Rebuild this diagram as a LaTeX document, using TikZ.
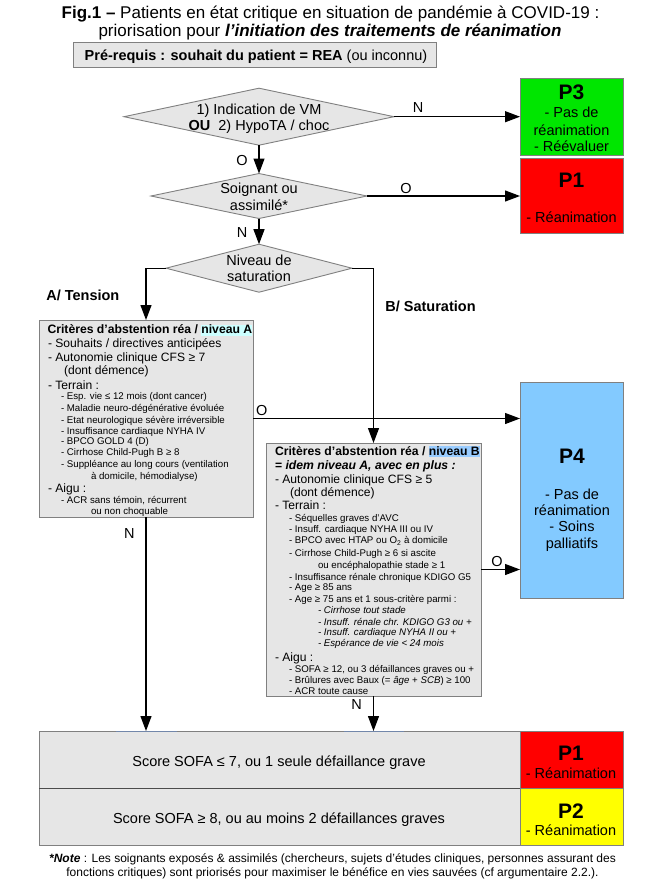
\documentclass[tikz,border=0pt]{standalone}
\usepackage{fontspec}
\setmainfont{Liberation Sans}
\usetikzlibrary{shapes.geometric,arrows.meta,calc}
\definecolor{boxgray}{RGB}{230,230,230}
\definecolor{bordergray}{RGB}{128,128,128}
\definecolor{pgreen}{RGB}{0,230,0}
\definecolor{pred}{RGB}{255,0,0}
\definecolor{pyellow}{RGB}{255,255,0}
\definecolor{pblue}{RGB}{131,202,255}
\definecolor{hlA}{RGB}{204,255,255}
\definecolor{hlB}{RGB}{153,204,255}
\definecolor{glue}{RGB}{114,135,170}
\newcommand\myfs[1]{\fontsize{#1}{#1}\selectfont}
\newcommand\hlt[2]{{\setlength{\fboxsep}{0pt}\colorbox{#1}{\rule[-0.15em]{0pt}{0.9em}#2}}}
\begin{document}
\begin{tikzpicture}[x=1pt,y=-1pt,
  txt/.style={inner sep=0pt, outer sep=0pt, font={\myfs{14.5}}},
  big/.style={txt, font={\myfs{21}\bfseries}},
  ttl/.style={txt, font={\myfs{17}}},
  hd/.style={txt, font={\myfs{12.2}\bfseries}},
  mid/.style={txt, font={\myfs{12.1}}},
  sm/.style={txt, font={\myfs{9.7}}},
  smi/.style={txt, font={\myfs{9.7}\itshape}},
  nt/.style={txt, font={\myfs{12}}},
  lbl/.style={inner sep=0pt, outer sep=0pt, font={\myfs{14.5}}},
  box/.style={rectangle, draw=bordergray, line width=0.9pt, fill=boxgray, inner sep=0pt, outer sep=0pt},
  pbox/.style={rectangle, draw=bordergray, line width=0.9pt, inner sep=0pt, outer sep=0pt},
  dia/.style={diamond, draw=bordergray, fill=boxgray, line width=0.9pt, inner sep=0pt, outer sep=0pt},
  arr/.style={-{Triangle[length=15pt,width=11pt]}, line width=1.2pt, black},
  gl/.style={draw=glue, line width=0.8pt}
]
\fill[white] (0,0) rectangle (661,894);
\useasboundingbox (0,0) rectangle (661,894);

% title
\node[ttl, anchor=base] (t1) at (330.5,18.7) {\textbf{Fig.1 –} Patients en état critique en situation de pandémie à COVID-19 :};
\node[ttl, anchor=base] (t2) at (330,36.8) {priorisation pour \textbf{\textit{l’initiation des traitements de réanimation}}};

% pre-requis
\node[box, minimum width=363pt, minimum height=25pt] (pre) at (254.5,55) {};
\node[txt, anchor=base] (pret) at (256,60.2) {\textbf{Pré-requis : souhait du patient = REA} (ou inconnu)};

% diamonds
\node[dia, minimum width=270pt, minimum height=57pt] (d1) at (259,116.7) {};
\node[txt, anchor=base] (d1a) at (259,114.2) {1) Indication de VM};
\node[txt, anchor=base] (d1b) at (259,130.2) {\textbf{OU}\ \ 2) HypoTA / choc};

\node[dia, minimum width=216pt, minimum height=45pt] (d2) at (259,196) {};
\node[txt, anchor=base] (d2a) at (259,193.5) {Soignant ou};
\node[txt, anchor=base] (d2b) at (259,210.2) {assimilé*};

\node[dia, minimum width=186pt, minimum height=48pt] (d3) at (259,268.2) {};
\node[txt, anchor=base] (d3a) at (259,265.9) {Niveau de};
\node[txt, anchor=base] (d3b) at (259,281.9) {saturation};

% P boxes
\node[pbox, fill=pgreen, minimum width=103pt, minimum height=77pt] (p3) at (571.5,116.5) {};
\node[big, anchor=base] (p3a) at (571.5,99.8) {P3};
\node[txt, anchor=base] (p3b) at (571.5,117.9) {- Pas de};
\node[txt, anchor=base] (p3c) at (571.5,135.2) {réanimation};
\node[txt, anchor=base] (p3d) at (571.5,151.9) {- Réévaluer};

\node[pbox, fill=pred, minimum width=103pt, minimum height=75pt] (p1) at (571.5,195.7) {};
\node[big, anchor=base] (p1a) at (571.5,187.5) {P1};
\node[txt, anchor=base] (p1b) at (571.5,222.5) {- Réanimation};

\node[pbox, fill=pblue, minimum width=103pt, minimum height=216pt] (p4) at (571.5,490) {};
\node[big, anchor=base] (p4a) at (572,463.5) {P4};
\node[txt, anchor=base] (p4b) at (572,499.2) {- Pas de};
\node[txt, anchor=base] (p4c) at (572,515.2) {réanimation};
\node[txt, anchor=base] (p4d) at (572,531.9) {- Soins};
\node[txt, anchor=base] (p4e) at (572,548.2) {palliatifs};

% branch labels
\node[txt, font={\myfs{14.5}\bfseries}, anchor=base] (lA) at (82.8,300.2) {A/ Tension};
\node[txt, font={\myfs{14.5}\bfseries}, anchor=base] (lB) at (430.5,311.2) {B/ Saturation};

% Box A
\node[box, minimum width=214pt, minimum height=197pt] (bxA) at (146,418.5) {};
\node[hd, anchor=base west] (a1) at (47.5,333.7) {Critères d’abstention réa / \hlt{hlA}{niveau A}};
\node[mid, anchor=base west] (a2) at (48,347.0) {- Souhaits / directives anticipées};
\node[mid, anchor=base west] (a3) at (48,361.0) {- Autonomie clinique CFS ≥ 7};
\node[mid, anchor=base west] (a4) at (64,374.3) {(dont démence)};
\node[mid, anchor=base west] (a5) at (48,389.3) {- Terrain :};
\node[sm, anchor=base west] (a6) at (61,399.5) {- Esp. vie ≤ 12 mois (dont cancer)};
\node[sm, anchor=base west] (a7) at (61,411.5) {- Maladie neuro-dégénérative évoluée};
\node[sm, anchor=base west] (a8) at (61,423.0) {- Etat neurologique sévère irréversible};
\node[sm, anchor=base west] (a9) at (61,434.2) {- Insuffisance cardiaque NYHA IV};
\node[sm, anchor=base west] (a10) at (61,444.8) {- BPCO GOLD 4 (D)};
\node[sm, anchor=base west] (a11) at (61,455.5) {- Cirrhose Child-Pugh B ≥ 8};
\node[sm, anchor=base west] (a12) at (61,467.5) {- Suppléance au long cours (ventilation};
\node[sm, anchor=base west] (a13) at (91,479.2) {à domicile, hémodialyse)};
\node[mid, anchor=base west] (a14) at (48,492.3) {- Aigu :};
\node[sm, anchor=base west] (a15) at (61,503.5) {- ACR sans témoin, récurrent};
\node[sm, anchor=base west] (a16) at (91,514.5) {ou non choquable};

% Box B
\node[box, minimum width=215pt, minimum height=253pt] (bxB) at (373.5,569.5) {};
\node[hd, anchor=base west] (b1) at (275,455.1) {Critères d’abstention réa / \hlt{hlB}{niveau B}};
\node[hd, anchor=base west] (b2) at (275,469.4) {= \textit{idem niveau A, avec en plus :}};
\node[mid, anchor=base west] (b3) at (275,483.6) {- Autonomie clinique CFS ≥ 5};
\node[mid, anchor=base west] (b4) at (290,496.3) {(dont démence)};
\node[mid, anchor=base west] (b5) at (275,509.3) {- Terrain :};
\node[sm, anchor=base west] (b6) at (289,521.8) {- Séquelles graves d’AVC};
\node[sm, anchor=base west] (b7) at (289,532.8) {- Insuff. cardiaque NYHA III ou IV};
\node[sm, anchor=base west] (b8) at (289,543.5) {- BPCO avec HTAP ou O\textsubscript{2} à domicile};
\node[sm, anchor=base west] (b9) at (289,556.8) {- Cirrhose Child-Pugh ≥ 6 si ascite};
\node[sm, anchor=base west] (b10) at (318,568.5) {ou encéphalopathie stade ≥ 1};
\node[sm, anchor=base west] (b11) at (289,580.2) {- Insuffisance rénale chronique KDIGO G5};
\node[sm, anchor=base west] (b12) at (289,590.8) {- Age ≥ 85 ans};
\node[sm, anchor=base west] (b13) at (289,602.2) {- Age ≥ 75 ans et 1 sous-critère parmi :};
\node[smi, anchor=base west] (b14) at (318,613.5) {- Cirrhose tout stade};
\node[smi, anchor=base west] (b15) at (318,625.2) {- Insuff. rénale chr. KDIGO G3 ou +};
\node[smi, anchor=base west] (b16) at (318,635.8) {- Insuff. cardiaque NYHA II ou +};
\node[smi, anchor=base west] (b17) at (318,646.8) {- Espérance de vie < 24 mois};
\node[mid, anchor=base west] (b18) at (275,661.6) {- Aigu :};
\node[sm, anchor=base west] (b19) at (289,672.5) {- SOFA ≥ 12, ou 3 défaillances graves ou +};
\node[sm, anchor=base west] (b20) at (289,683.5) {- Brûlures avec Baux (= \textit{âge} + \textit{SCB}) ≥ 100};
\node[sm, anchor=base west] (b21) at (289,694.2) {- ACR toute cause};

% bottom table
\node[box, minimum width=481pt, minimum height=57pt] (r1) at (279.5,759.5) {};
\node[pbox, fill=pred, minimum width=103pt, minimum height=57pt] (r1p) at (571.5,759.5) {};
\node[box, minimum width=481pt, minimum height=57pt] (r2) at (279.5,816.5) {};
\node[pbox, fill=pyellow, minimum width=103pt, minimum height=57pt] (r2p) at (571.5,816.5) {};
\draw[line width=0.9pt, black!70] (r2.north west) -- (r2.north east);
\node[txt, anchor=base] (r1t) at (279,766.2) {Score SOFA ≤ 7, ou 1 seule défaillance grave};
\node[txt, anchor=base] (r2t) at (279,823.5) {Score SOFA ≥ 8, ou au moins 2 défaillances graves};
\node[big, anchor=base] (r1pa) at (571,760.5) {P1};
\node[txt, anchor=base] (r1pb) at (571,778.5) {- Réanimation};
\node[big, anchor=base] (r2pa) at (571,818.2) {P2};
\node[txt, anchor=base] (r2pb) at (571,835.2) {- Réanimation};

% note
\node[nt, anchor=base] (n1) at (332.5,862) {\textbf{\textit{*Note}} : Les soignants exposés \& assimilés (chercheurs, sujets d’études cliniques, personnes assurant des};
\node[nt, anchor=base] (n2) at (332.5,876) {fonctions critiques) sont priorisés pour maximiser le bénéfice en vies sauvées (cf argumentaire 2.2.).};

% glue marks
\coordinate (gA) at (bxA.south |- r1.north);
\coordinate (gB) at (bxB.south |- r1.north);
\draw[gl] ($(gA)+(-30,0)$) -- ($(gA)+(31,0)$);
\draw[gl] ($(gB)+(-30,0)$) -- ($(gB)+(30,0)$);

% connectors
\draw[arr] (d1.east) -- (d1.east -| p3.west);
\draw[arr] (d2.east) -- (d2.east -| p1.west);
\draw[arr] (d1.south) -- (d2.north);
\draw[arr] (d2.south) -- (d3.north);
\draw[arr] (d3.west) -| (bxA.north);
\draw[arr] (d3.east) -| (bxB.north);
\draw[arr] (bxA.east) -- (bxA.east -| p4.west);
\draw[arr] (bxB.east) -- (bxB.east -| p4.west);
\draw[arr] (bxA.south) -- (gA);
\draw[arr] (bxB.south) -- (gB);

% connector labels
\node[lbl] (ln1) at (418,108) {N};
\node[lbl] (lo1) at (242,160.7) {O};
\node[lbl] (lo2) at (406,188.3) {O};
\node[lbl] (ln2) at (242,232.7) {N};
\node[lbl] (lo3) at (261.7,411) {O};
\node[lbl] (lo4) at (497,561.7) {O};
\node[lbl] (ln3) at (129.3,533.3) {N};
\node[lbl] (ln4) at (356.7,705) {N};
\end{tikzpicture}
\end{document}
